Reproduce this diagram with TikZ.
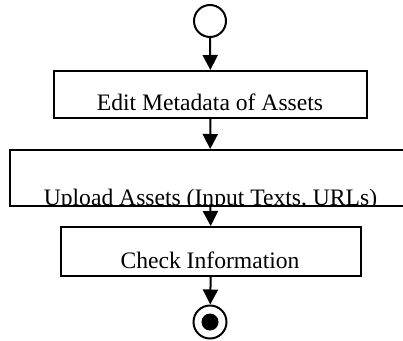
\documentclass[tikz,border=0pt]{standalone}
\usepackage{fontspec}
\setmainfont{Liberation Serif}
\usetikzlibrary{arrows.meta}
\begin{document}
\begin{tikzpicture}[x=1pt,y=-1pt,line width=2pt,
  flow/.style={-{Triangle[length=15pt,width=15pt]}},
  action/.style={draw, rectangle, inner sep=0pt},
  acttext/.style={font=\fontsize{23.6pt}{28pt}\selectfont, anchor=base, inner sep=0pt}]

% Fix the frame
\clip (0,0) rectangle (403,340);

% Draw the start
\node[circle, draw, minimum size=32pt, inner sep=0pt] (start) at (210,21) {};

% Draw the actions
\node[action, minimum width=313pt, minimum height=47pt] (edit) at (210.5,94.5) {};
\node[acttext] (edittext) at (210,110) {Edit Metadata of Assets};

\node[action, minimum width=400pt, minimum height=55.5pt] (upload) at (210,177.75) {};
\begin{scope}
\clip (upload.south west) rectangle (upload.north east);
\node[acttext] (uploadtext) at (210.5,205) {Upload Assets (Input Texts, URLs)};
\end{scope}

\node[action, minimum width=300pt, minimum height=49pt] (check) at (211,251.5) {};
\node[acttext] (checktext) at (210,268) {Check Information};

% Draw the end
\node[circle, draw, minimum size=33pt, inner sep=0pt] (stop) at (210,322) {};
\node[circle, fill, minimum size=17pt, inner sep=0pt] (stopdot) at (stop) {};

% Draw the arrows
\draw[flow] (start) -- (edit);
\draw[flow] (edit) -- (upload);
\draw[flow] (upload) -- (check);
\draw[flow] (check) -- (stop);

\end{tikzpicture}
\end{document}
